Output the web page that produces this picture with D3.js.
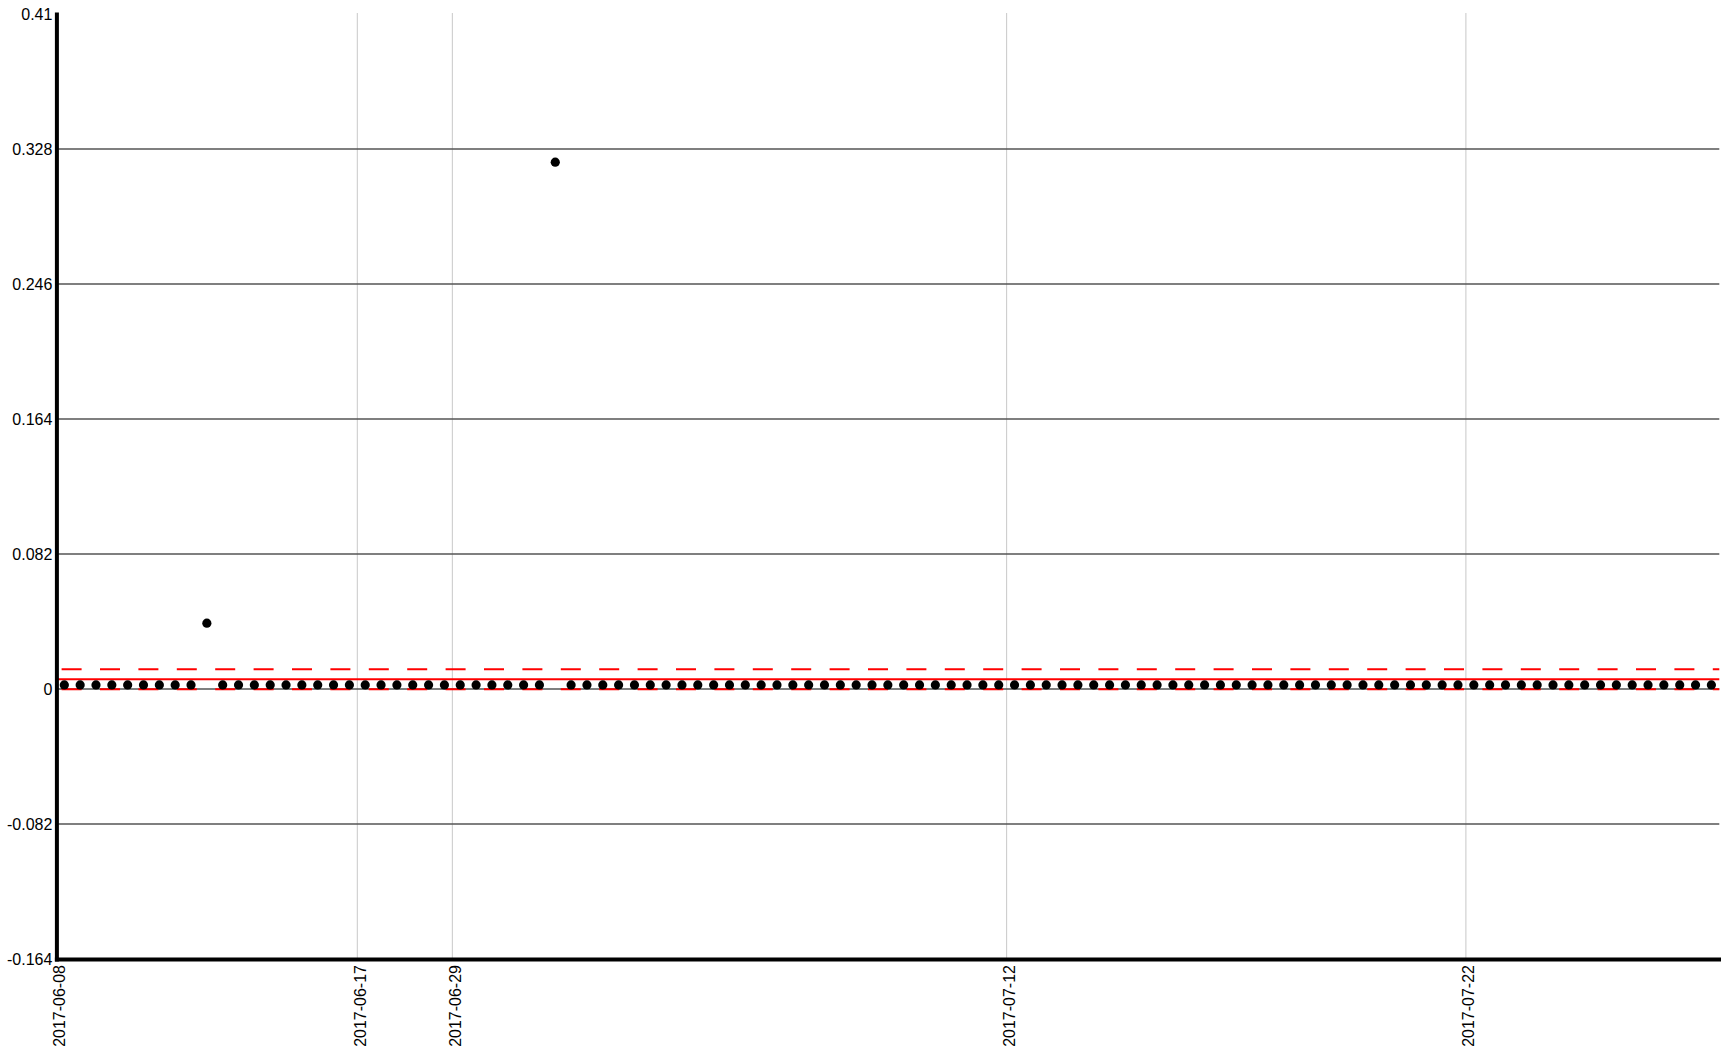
<!DOCTYPE html>
<html>
<head>
<meta charset="utf-8">
<script src="https://cdn.jsdelivr.net/npm/d3@7"></script>
<style>
  html, body { margin: 0; padding: 0; background: #fff; }
  svg { display: block; font-family: "Liberation Sans", Arial, Helvetica, sans-serif; }
</style>
</head>
<body>
<svg id="chart" width="1721" height="1053"></svg>
<script>
// ---- data ----
const values = [
  0.0025, 0.0025, 0.0025, 0.0025, 0.0025, 0.0025, 0.0025, 0.0025, 0.0025, 0.040,
  0.0025, 0.0025, 0.0025, 0.0025, 0.0025, 0.0025, 0.0025, 0.0025, 0.0025, 0.0025,
  0.0025, 0.0025, 0.0025, 0.0025, 0.0025, 0.0025, 0.0025, 0.0025, 0.0025, 0.0025,
  0.0025, 0.320, 0.0025, 0.0025, 0.0025, 0.0025, 0.0025, 0.0025, 0.0025, 0.0025,
  0.0025, 0.0025, 0.0025, 0.0025, 0.0025, 0.0025, 0.0025, 0.0025, 0.0025, 0.0025,
  0.0025, 0.0025, 0.0025, 0.0025, 0.0025, 0.0025, 0.0025, 0.0025, 0.0025, 0.0025,
  0.0025, 0.0025, 0.0025, 0.0025, 0.0025, 0.0025, 0.0025, 0.0025, 0.0025, 0.0025,
  0.0025, 0.0025, 0.0025, 0.0025, 0.0025, 0.0025, 0.0025, 0.0025, 0.0025, 0.0025,
  0.0025, 0.0025, 0.0025, 0.0025, 0.0025, 0.0025, 0.0025, 0.0025, 0.0025, 0.0025,
  0.0025, 0.0025, 0.0025, 0.0025, 0.0025, 0.0025, 0.0025, 0.0025, 0.0025, 0.0025,
  0.0025, 0.0025, 0.0025, 0.0025, 0.0025
];
const categories = values.map((v, i) => i);           // sample order
const xTickIndices = [0, 19, 25, 60, 89];
const xTickLabels = ["2017-06-08", "2017-06-17", "2017-06-29", "2017-07-12", "2017-07-22"];
const yTickValues = [-0.164, -0.082, 0, 0.082, 0.164, 0.246, 0.328, 0.41];
const yTickLabels = ["-0.164", "-0.082", "0", "0.082", "0.164", "0.246", "0.328", "0.41"];

(function () {
  // ---- layout ----
  const mLeft = 56.4, mRight = 1719.3, mTop = 14, mBottom = 959;
  const svg = d3.select("#chart");

  const x = d3.scaleBand().domain(categories).range([mLeft, mRight]).padding(0);
  const xi = d3.scaleLinear().domain([0, categories.length]).range([mLeft, mRight]);
  const y = d3.scaleLinear().domain([yTickValues[0], yTickValues[yTickValues.length - 1]]).range([mBottom, mTop]);

  // statistics lines
  const mean = d3.mean(values);
  const se = d3.deviation(values) / Math.sqrt(values.length);
  const upper = mean + 2 * se, lower = mean - 2 * se;

  // vertical grid
  svg.append("g").selectAll("line").data(xTickIndices).join("line")
    .attr("x1", d => xi(d)).attr("x2", d => xi(d))
    .attr("y1", mTop - 1).attr("y2", mBottom)
    .attr("stroke", "#c8c8c8").attr("stroke-width", 1);

  // horizontal grid
  svg.append("g").selectAll("line").data(yTickValues.slice(1, -1)).join("line")
    .attr("x1", mLeft).attr("x2", mRight)
    .attr("y1", d => y(d)).attr("y2", d => y(d))
    .attr("stroke", "#555").attr("stroke-width", 1.5);

  // red mean + band lines
  svg.append("line").attr("x1", mLeft).attr("x2", mRight)
    .attr("y1", y(mean)).attr("y2", y(mean))
    .attr("stroke", "#ff0000").attr("stroke-width", 2);
  svg.append("g").selectAll("line").data([upper, lower]).join("line")
    .attr("x1", mLeft).attr("x2", mRight)
    .attr("y1", d => y(d)).attr("y2", d => y(d))
    .attr("stroke", "#ff0000").attr("stroke-width", 2)
    .attr("stroke-dasharray", "20,18.4").attr("stroke-dashoffset", -5.2);

  // dots
  svg.append("g").selectAll("circle").data(values).join("circle")
    .attr("cx", (d, i) => x(categories[i]) + x.bandwidth() / 2)
    .attr("cy", d => y(d))
    .attr("r", 4.6)
    .attr("fill", "#000");

  // y axis
  const yAxis = svg.append("g").attr("transform", `translate(${mLeft},0)`)
    .call(d3.axisLeft(y).tickValues(yTickValues).tickSize(0).tickPadding(4)
      .tickFormat((d, i) => yTickLabels[i]));
  yAxis.select(".domain").attr("stroke", "#000").attr("stroke-width", 4).attr("stroke-linecap", "square");
  yAxis.selectAll("text").attr("font-size", 16).attr("fill", "#000")
    .attr("font-family", "'Liberation Sans', Arial, sans-serif");

  // x axis
  const xAxis = svg.append("g").attr("transform", `translate(0,${mBottom})`)
    .call(d3.axisBottom(xi).tickValues(xTickIndices).tickSize(0)
      .tickFormat((d, i) => xTickLabels[i]));
  xAxis.select(".domain").attr("stroke", "#000").attr("stroke-width", 4).attr("stroke-linecap", "square");
  xAxis.selectAll("text")
    .attr("font-size", 16).attr("fill", "#000")
    .attr("font-family", "'Liberation Sans', Arial, sans-serif")
    .attr("transform", "rotate(-90)")
    .attr("text-anchor", "end")
    .attr("x", -6).attr("y", 0).attr("dy", "0.5em");
})();
</script>
</body>
</html>
